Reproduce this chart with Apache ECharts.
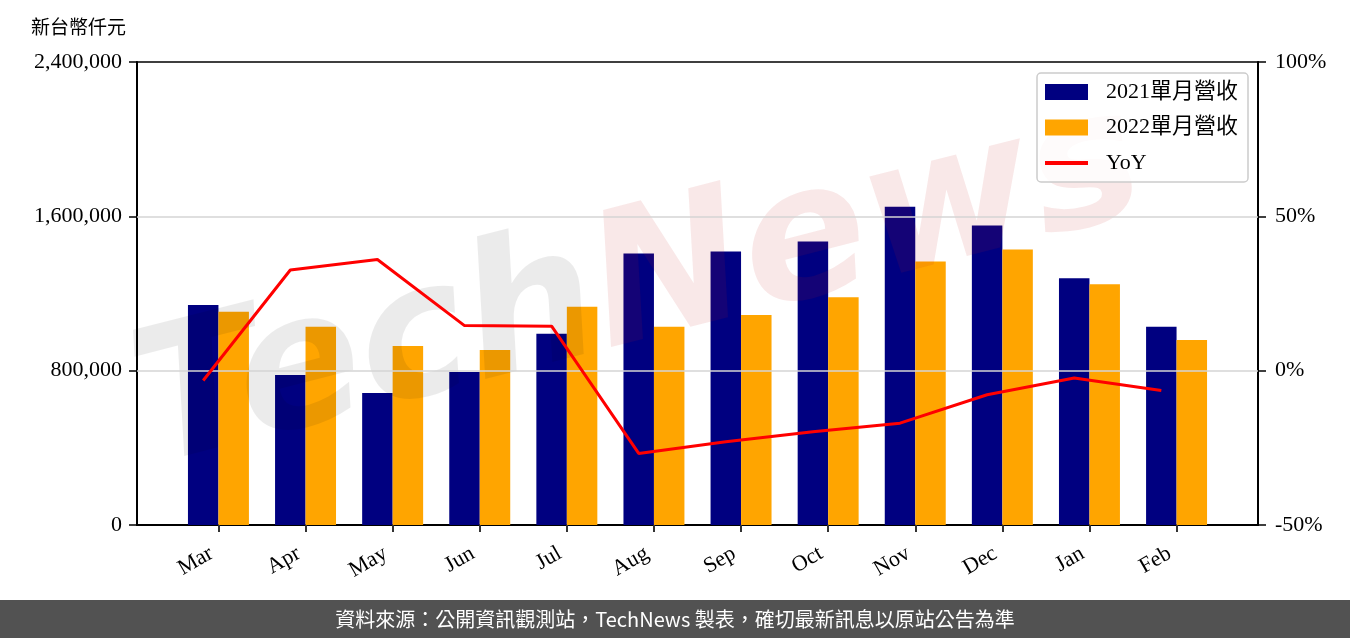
<!DOCTYPE html>
<html>
<head>
<meta charset="utf-8">
<script src="https://cdn.jsdelivr.net/npm/echarts@6/dist/echarts.min.js"></script>
<style>
html,body{margin:0;padding:0;background:#fff;}
#chart{width:1350px;height:638px;}
</style>
</head>
<body>
<div id="chart"></div>
<script>
const months = ['Mar','Apr','May','Jun','Jul','Aug','Sep','Oct','Nov','Dec','Jan','Feb'];
const rev2021 = [1141000, 777000, 684000, 793000, 991000, 1407000, 1418000, 1469000, 1650000, 1552000, 1279000, 1027000];
const rev2022 = [1105000, 1027000, 928000, 907000, 1131000, 1027000, 1088000, 1181000, 1366000, 1428000, 1248000, 959000];
const yoy = [-3.2, 32.6, 36.0, 14.6, 14.4, -26.8, -23.0, -19.8, -17.0, -7.8, -2.4, -6.4];
const leftTicks = [0, 800000, 1600000, 2400000];
const rightTicks = [-50, 0, 50, 100];
const seriesNames = ['2021單月營收', '2022單月營收', 'YoY'];
const unitLabel = '新台幣仟元';
const footerText = '資料來源：公開資訊觀測站，TechNews 製表，確切最新訊息以原站公告為準';

const BAR_FRAC = 0.35;
const idx = months.map((m, i) => i);
const FONT = "'Liberation Serif', 'Noto Sans CJK TC', serif";
const LINE_ICON = 'path://M0,0 L0.01,0 L0,0.01 Z M0,6 L43,6 L43,10 L0,10 Z M43,16 L42.99,16 L43,15.99 Z';

const chart = echarts.init(document.getElementById('chart'), null, {renderer: 'canvas'});
const option = {
  animation: false,
  backgroundColor: '#fff',
  grid: {left: 137, right: 92, top: 62, bottom: 113, show: true, borderColor: '#000', borderWidth: 1.5, backgroundColor: 'transparent'},
  legend: {
    data: [
      {name: seriesNames[0], icon: 'rect'},
      {name: seriesNames[1], icon: 'rect'},
      {name: seriesNames[2], icon: LINE_ICON}
    ],
    orient: 'vertical',
    left: 1037, top: 73,
    itemWidth: 43, itemHeight: 16, itemGap: 13.5,
    padding: [8, 10, 8, 8],
    borderColor: '#cccccc', borderWidth: 1.5, borderRadius: 4,
    backgroundColor: 'rgba(255,255,255,0.8)',
    textStyle: {fontSize: 22, fontFamily: FONT, color: '#000', padding: [0, 0, 0, 13]},
    z: 6
  },
  xAxis: {
    type: 'value', min: -0.935, max: 11.935,
    axisLine: {show: true, onZero: false, lineStyle: {color: '#000', width: 2}},
    axisTick: {show: true, customValues: idx, length: 7, lineStyle: {color: '#333', width: 2}},
    axisLabel: {
      customValues: idx, rotate: 30, margin: 23, padding: [0, 8, 0, 0],
      fontSize: 22, fontFamily: FONT, color: '#000',
      formatter: v => months[Math.round(v)]
    },
    splitLine: {show: false}
  },
  yAxis: [
    {
      type: 'value', min: 0, max: 2400000, interval: 800000, position: 'left',
      axisLine: {show: true, onZero: false, lineStyle: {color: '#000', width: 2}},
      axisTick: {show: true, length: 8, lineStyle: {color: '#000', width: 1.5}},
      axisLabel: {fontSize: 22, fontFamily: FONT, color: '#000', margin: 15,
        formatter: v => v.toLocaleString('en-US')},
      splitLine: {show: false}
    },
    {
      type: 'value', min: -50, max: 100, interval: 50, position: 'right',
      axisLine: {show: true, onZero: false, lineStyle: {color: '#000', width: 2}},
      axisTick: {show: true, length: 8, lineStyle: {color: '#000', width: 1.5}},
      axisLabel: {fontSize: 22, fontFamily: FONT, color: '#000', margin: 17, formatter: '{value}%'},
      splitLine: {show: false}
    }
  ],
  series: [
    {
      name: seriesNames[0], type: 'bar', yAxisIndex: 0,
      barWidth: (BAR_FRAC * 100) + '%', barGap: '0%',
      itemStyle: {color: '#000080'},
      data: rev2021.map((v, i) => [i, v]),
      z: 2
    },
    {
      name: seriesNames[1], type: 'bar', yAxisIndex: 0,
      barWidth: (BAR_FRAC * 100) + '%', barGap: '0%',
      itemStyle: {color: '#FFA500'},
      data: rev2022.map((v, i) => [i, v]),
      z: 2,
      markLine: {
        silent: true, symbol: 'none', label: {show: false},
        lineStyle: {color: '#d4d4d4', width: 1.5, type: 'solid'},
        data: leftTicks.slice(1, -1).map(v => ({yAxis: v})),
        z: 5
      }
    },
    {
      name: seriesNames[2], type: 'line', yAxisIndex: 1,
      symbol: 'none',
      lineStyle: {color: '#FF0000', width: 3},
      itemStyle: {color: '#FF0000'},
      data: yoy.map((v, i) => [i - BAR_FRAC / 2, v]),
      z: 10
    }
  ],
  graphic: [
    {
      type: 'text', x: 640, y: 290, rotation: 0.25, z: 3, silent: true,
      style: {
        text: '{a|Tech}{b|News}',
        align: 'center', verticalAlign: 'middle',
        rich: {
          a: {fontSize: 185, fontWeight: 'bold', fontStyle: 'italic', fontFamily: "'DejaVu Sans'", fill: 'rgba(0,0,0,0.08)'},
          b: {fontSize: 185, fontWeight: 'bold', fontStyle: 'italic', fontFamily: "'DejaVu Sans'", fill: 'rgba(196,28,28,0.10)'}
        }
      }
    },
    {
      type: 'text', left: 31, top: 17, z: 10,
      style: {text: unitLabel, fontSize: 19, fontFamily: "'Noto Sans CJK TC', serif", fill: '#000'}
    },
    {
      type: 'rect', left: 0, top: 600, z: 10,
      shape: {width: 1350, height: 38},
      style: {fill: '#525252'}
    },
    {
      type: 'text', x: 675, y: 619, z: 11,
      style: {text: footerText, fontSize: 20, fontFamily: "'Noto Sans CJK TC', sans-serif", fill: '#fff', align: 'center', verticalAlign: 'middle'}
    }
  ]
};
chart.setOption(option);
</script>
</body>
</html>
